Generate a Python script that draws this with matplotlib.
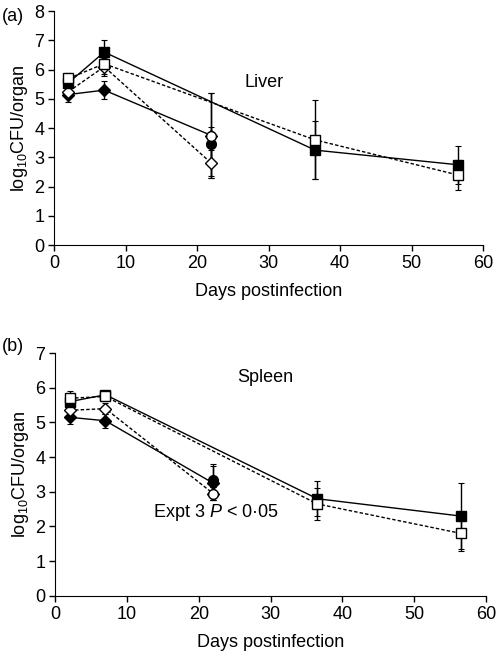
import numpy as np
import matplotlib.pyplot as plt

plt.rcParams['font.family'] = ['Liberation Sans', 'DejaVu Sans']
plt.rcParams['mathtext.fontset'] = 'custom'
plt.rcParams['mathtext.rm'] = 'Liberation Sans'
plt.rcParams['mathtext.it'] = 'Liberation Sans:italic'

# ---- data ----
days_long = [2, 7, 36.5, 56.5]
days_short = [2, 7, 22]
day_expt3 = [22]

# (a) Liver
liver_fsq = [5.55, 6.6, 3.25, 2.75]
liver_fsq_err = [0.2, 0.4, 1.0, 0.65]
liver_osq = [5.7, 6.2, 3.6, 2.4]
liver_osq_err = [0.2, 0.35, 1.35, 0.5]
liver_fdi = [5.15, 5.3, 3.75]
liver_fdi_err = [0.25, 0.3, 1.45]
liver_odi = [5.25, 6.1, 2.8]
liver_odi_err = [0.2, 0.3, 0.45]
liver_fci = [3.45]
liver_fci_err = [0.6]
liver_oci = [3.75]
liver_oci_err = [1.45]

# (b) Spleen
spleen_fsq = [5.6, 5.8, 2.8, 2.3]
spleen_fsq_err = [0.2, 0.1, 0.5, 0.95]
spleen_osq = [5.7, 5.75, 2.65, 1.8]
spleen_osq_err = [0.2, 0.1, 0.45, 0.5]
spleen_fdi = [5.15, 5.05, 3.25]
spleen_fdi_err = [0.2, 0.2, 0.5]
spleen_odi = [5.35, 5.4, 2.95]
spleen_odi_err = [0.2, 0.15, 0.2]
spleen_fci = [3.35]
spleen_fci_err = [0.45]
spleen_oci = [2.95]
spleen_oci_err = [0.2]

DASH = (0, (2.5, 1.5))
FS = 13


def draw_series(ax, x, y, err, marker, filled, dashed, ms=7):
    ax.errorbar(x, y, yerr=err, fmt='none', ecolor='black', elinewidth=1,
                capsize=2, capthick=0.8, zorder=2)
    ax.plot(x, y, color='black', lw=1, linestyle=DASH if dashed else '-',
            marker=marker, markersize=ms, markeredgecolor='black',
            markeredgewidth=1, markerfacecolor='black' if filled else 'white',
            zorder=3)


def style_axis(ax, ymax):
    ax.set_xlim(0, 60)
    ax.set_ylim(0, ymax)
    ax.set_xticks(np.arange(0, 61, 10))
    ax.set_yticks(np.arange(0, ymax + 1, 1))
    ax.spines['top'].set_visible(False)
    ax.spines['right'].set_visible(False)
    ax.tick_params(direction='out', length=4, width=1, labelsize=FS, pad=3)
    ax.set_xlabel('Days postinfection', fontsize=FS, labelpad=8)
    ax.set_ylabel(r'log$_{10}$CFU/organ', fontsize=FS, labelpad=3)


fig = plt.figure(figsize=(4.97, 6.54), dpi=100)
ax1 = fig.add_axes([0.109, 0.625, 0.863, 0.358])
ax2 = fig.add_axes([0.111, 0.089, 0.867, 0.371])

# panel (a)
draw_series(ax1, days_short, liver_fdi, liver_fdi_err, 'D', True, False, ms=6.5)
draw_series(ax1, days_short, liver_odi, liver_odi_err, 'D', False, True, ms=6.5)
draw_series(ax1, days_long, liver_fsq, liver_fsq_err, 's', True, False)
draw_series(ax1, days_long, liver_osq, liver_osq_err, 's', False, True)
draw_series(ax1, day_expt3, liver_fci, liver_fci_err, 'o', True, False)
draw_series(ax1, day_expt3, liver_oci, liver_oci_err, 'o', False, True)
style_axis(ax1, 8)
ax1.text(29.3, 5.55, 'Liver', fontsize=FS, ha='center', va='center')
fig.text(0.003, 0.975, '(a)', fontsize=FS, ha='left', va='center')

# panel (b)
draw_series(ax2, days_short, spleen_fdi, spleen_fdi_err, 'D', True, False, ms=6.5)
draw_series(ax2, days_short, spleen_odi, spleen_odi_err, 'D', False, True, ms=6.5)
draw_series(ax2, days_long, spleen_fsq, spleen_fsq_err, 's', True, False)
draw_series(ax2, days_long, spleen_osq, spleen_osq_err, 's', False, True)
draw_series(ax2, day_expt3, spleen_fci, spleen_fci_err, 'o', True, False)
draw_series(ax2, day_expt3, spleen_oci, spleen_oci_err, 'o', False, True)
style_axis(ax2, 7)
ax2.text(29.2, 6.3, 'Spleen', fontsize=FS, ha='center', va='center')
ax2.text(22.4, 2.4, r'Expt 3 $\it{P}$ < 0·05', fontsize=FS, ha='center', va='center')
fig.text(0.003, 0.47, '(b)', fontsize=FS, ha='left', va='center')

fig.savefig('out.png', dpi=100)
